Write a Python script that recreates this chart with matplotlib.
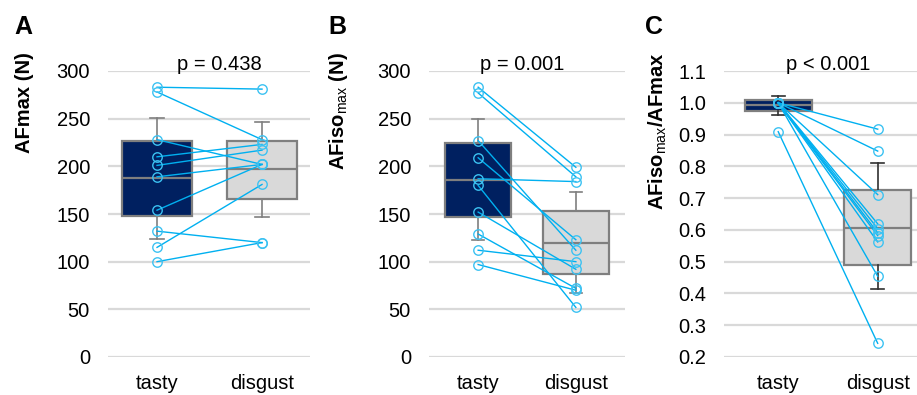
import matplotlib
matplotlib.use("Agg")
import matplotlib.pyplot as plt
from matplotlib.ticker import FormatStrFormatter

plt.rcParams['font.family'] = ['Liberation Sans', 'DejaVu Sans']
plt.rcParams['mathtext.fontset'] = 'custom'
plt.rcParams['mathtext.rm'] = 'Liberation Sans'
plt.rcParams['mathtext.it'] = 'Liberation Sans:italic'
plt.rcParams['mathtext.bf'] = 'Liberation Sans:bold'

categories = ["tasty", "disgust"]

# Panel A: AFmax (N), paired values per subject
a_tasty = [283, 278, 228, 210, 201, 189, 154, 132, 115, 100]
a_disgust = [281, 228, 202, 223, 217, 202, 202, 120, 181, 120]
# box stats: whislo, q1, median, q3, whishi
a_box_tasty = [124, 148, 188, 227, 251]
a_box_disgust = [147, 166, 197, 227, 246]

# Panel B: AFiso_max (N)
b_tasty = [283, 277, 227, 209, 187, 180, 152, 129, 112, 97]
b_disgust = [199, 189, 112, 123, 184, 52, 92, 72, 100, 70]
b_box_tasty = [123, 146.5, 185.5, 225, 250]
b_box_disgust = [67, 87, 120, 153, 173]

# Panel C: AFiso_max / AFmax
c_tasty = [1.0, 1.0, 1.0, 1.0, 1.0, 1.0, 1.0, 1.0, 1.0, 0.909]
c_disgust = [0.917, 0.848, 0.711, 0.619, 0.604, 0.591, 0.582, 0.562, 0.454, 0.243]
c_box_tasty = [0.961, 0.974, 0.992, 1.010, 1.022]
c_box_disgust = [0.415, 0.489, 0.606, 0.724, 0.811]

p_labels = ["p = 0.438", "p = 0.001", "p < 0.001"]
panel_letters = ["A", "B", "C"]

W, H = 917, 395
fig = plt.figure(figsize=(W / 100, H / 100), dpi=100)

def rect(l, r, t, b):
    return [l / W, 1 - b / H, (r - l) / W, (b - t) / H]

TASTY_FC = '#002060'
DISG_FC = '#d9d9d9'
EDGE = '#7f7f7f'
LINE = '#00b0f0'
MARK = '#3cc2f2'
GRID = '#d9d9d9'

def make_stats(s):
    return dict(whislo=s[0], q1=s[1], med=s[2], q3=s[3], whishi=s[4], fliers=[])

def panel(ax, tasty, disg, box_t, box_d, ylim, yticks, xlim, fmt, whisk_color):
    ax.set_xlim(*xlim)
    ax.set_ylim(*ylim)
    ax.set_yticks(yticks)
    ax.yaxis.set_major_formatter(FormatStrFormatter(fmt))
    ax.yaxis.grid(True, color=GRID, lw=1.6)
    ax.set_axisbelow(True)
    for sp in ax.spines.values():
        sp.set_visible(False)
    for pos, st, fc in [(0, box_t, TASTY_FC), (1, box_d, DISG_FC)]:
        ax.bxp([make_stats(st)], positions=[pos], widths=0.67, patch_artist=True,
               showfliers=False, capwidths=0.13,
               boxprops=dict(facecolor=fc, edgecolor=EDGE, lw=1.6),
               medianprops=dict(color=EDGE, lw=1.6),
               whiskerprops=dict(color=whisk_color, lw=1.2),
               capprops=dict(color=whisk_color, lw=1.2),
               manage_ticks=False, zorder=2)
    for t, d in zip(tasty, disg):
        ax.plot([0, 1], [t, d], color=LINE, lw=1.0, zorder=3, clip_on=False)
        ax.plot([0, 1], [t, d], ls='none', marker='o', ms=6.8, mfc='none',
                mec=MARK, mew=1.0, zorder=4, clip_on=False)
    ax.set_xticks([0, 1])
    ax.set_xticklabels(categories)
    ax.tick_params(axis='both', length=0, labelsize=14.5, colors='black')
    ax.tick_params(axis='y', pad=13)
    ax.tick_params(axis='x', pad=12)

axA = fig.add_axes(rect(108, 310, 71, 357))
panel(axA, a_tasty, a_disgust, a_box_tasty, a_box_disgust, (0, 300),
      list(range(0, 301, 50)), (-0.467, 1.457), '%d', EDGE)
axB = fig.add_axes(rect(429, 625, 71, 357))
panel(axB, b_tasty, b_disgust, b_box_tasty, b_box_disgust, (0, 300),
      list(range(0, 301, 50)), (-0.503, 1.503), '%d', EDGE)
axC = fig.add_axes(rect(724, 917, 71, 357))
panel(axC, c_tasty, c_disgust, c_box_tasty, c_box_disgust, (0.2, 1.1),
      [0.2 + 0.1 * i for i in range(10)], (-0.545, 1.395), '%.1f', '#303030')

def ftext(x, y, s, **kw):
    fig.text(x / W, 1 - y / H, s, **kw)

# panel letters
for x, s in zip([14, 328, 645], panel_letters):
    ftext(x, 34, s, fontsize=18, fontweight='bold', ha='left', va='baseline')

# y labels
ylabels = [r'AFmax (N)', r'AFiso$_\mathrm{max}$ (N)', r'AFiso$_\mathrm{max}$/AFmax']
for x, s in zip([25, 338, 658], ylabels):
    ftext(x, 52, s, fontsize=14.5, fontweight='bold', rotation=90, ha='center', va='top')

# p-values
for x, s in zip([219, 522, 828], p_labels):
    ftext(x, 69.5, s, fontsize=14.5, ha='center', va='baseline')

fig.savefig('out.png', dpi=100)
